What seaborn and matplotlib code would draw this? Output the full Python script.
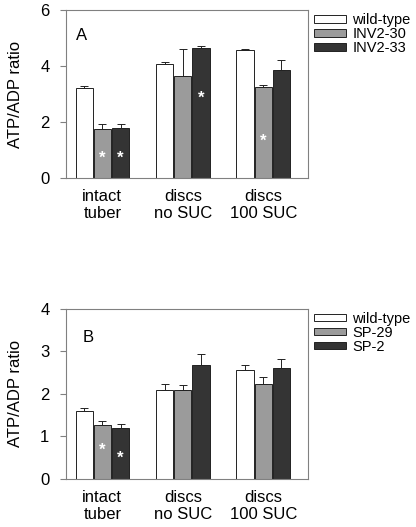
import pandas as pd
import matplotlib
matplotlib.use('Agg')
import matplotlib.pyplot as plt
import matplotlib.patches as mpatches
import seaborn as sns

# Categories shared by both panels
conditions = ['intact\ntuber', 'discs\nno SUC', 'discs\n100 SUC']

# Panel A: invertase lines
lines_a = ['wild-type', 'INV2-30', 'INV2-33']
mean_a = {'wild-type': [3.23, 4.08, 4.58],
          'INV2-30': [1.74, 3.66, 3.24],
          'INV2-33': [1.80, 4.65, 3.85]}
err_a = {'wild-type': [0.06, 0.06, 0.04],
         'INV2-30': [0.19, 0.96, 0.10],
         'INV2-33': [0.13, 0.08, 0.35]}
# (line, condition index, y position of the star)
stars_a = [('INV2-30', 0, 0.77), ('INV2-33', 0, 0.77),
           ('INV2-33', 1, 2.9), ('INV2-30', 2, 1.38)]

# Panel B: sucrose phosphorylase lines
lines_b = ['wild-type', 'SP-29', 'SP-2']
mean_b = {'wild-type': [1.61, 2.10, 2.57],
          'SP-29': [1.26, 2.10, 2.23],
          'SP-2': [1.20, 2.69, 2.62]}
err_b = {'wild-type': [0.06, 0.13, 0.11],
         'SP-29': [0.11, 0.12, 0.17],
         'SP-2': [0.10, 0.25, 0.21]}
stars_b = [('SP-29', 0, 0.72), ('SP-2', 0, 0.53)]

colors = ['#ffffff', '#9b9b9b', '#343434']

plt.rcParams['font.family'] = ['Liberation Sans', 'DejaVu Sans']
plt.rcParams['font.size'] = 12

fig = plt.figure(figsize=(4.16, 5.27), dpi=100)
ax_a = fig.add_axes([0.159, 0.662, 0.582, 0.319])
ax_b = fig.add_axes([0.159, 0.091, 0.582, 0.323])


def draw_panel(ax, lines, means, errs, stars, ymax, letter, letter_pos):
    rows = []
    for ln in lines:
        for i, c in enumerate(conditions):
            rows.append({'condition': c, 'line': ln, 'ratio': means[ln][i], 'err': errs[ln][i]})
    df = pd.DataFrame(rows)
    sns.barplot(data=df, x='condition', y='ratio', hue='line', hue_order=lines,
                order=conditions, palette=colors, errorbar=None, width=0.68, gap=0.06,
                edgecolor='#222222', linewidth=0.7, ax=ax, legend=False)
    # error bars (upper side only) and stars from the bar patches
    for ln, cont in zip(lines, ax.containers):
        xs = [p.get_x() + p.get_width() / 2 for p in cont.patches]
        ys = means[ln]
        ax.errorbar(xs, ys, yerr=[[0] * len(ys), errs[ln]], fmt='none',
                    ecolor='#222222', elinewidth=0.7, capsize=3, capthick=0.7)
        for s_ln, idx, ypos in stars:
            if s_ln == ln:
                ax.text(xs[idx], ypos, '*', color='white', ha='center', va='center_baseline',
                        fontsize=12, fontweight='bold')
    ax.set_xlim(-0.45, 2.56)
    ax.set_ylim(0, ymax)
    ax.set_yticks(range(0, ymax + 1, 2 if ymax == 6 else 1))
    ax.set_xlabel('')
    ax.set_ylabel('ATP/ADP ratio', fontsize=12, labelpad=12)
    ax.tick_params(axis='x', length=0, pad=8, labelsize=12)
    for lab in ax.get_xticklabels():
        lab.set_linespacing(1.15)
    ax.tick_params(axis='y', length=4, width=0.8, color='#808080', labelsize=12, pad=8)
    for sp in ax.spines.values():
        sp.set_color('#808080')
        sp.set_linewidth(0.8)
    ax.text(letter_pos[0], letter_pos[1], letter, transform=ax.transAxes, fontsize=12,
            va='center')
    handles = [mpatches.Patch(facecolor=c, edgecolor='#222222', linewidth=0.7, label=l)
               for c, l in zip(colors, lines)]
    ax.legend(handles=handles, loc='upper left', bbox_to_anchor=(1.01, 1.0), frameon=False,
              handlelength=2.2, handleheight=0.45, handletextpad=0.45, labelspacing=0.0,
              borderaxespad=0, borderpad=0.2, fontsize=10.5)


draw_panel(ax_a, lines_a, mean_a, err_a, stars_a, 6, 'A', (0.04, 0.85))
draw_panel(ax_b, lines_b, mean_b, err_b, stars_b, 4, 'B', (0.07, 0.83))

fig.savefig('out.png', dpi=100)
